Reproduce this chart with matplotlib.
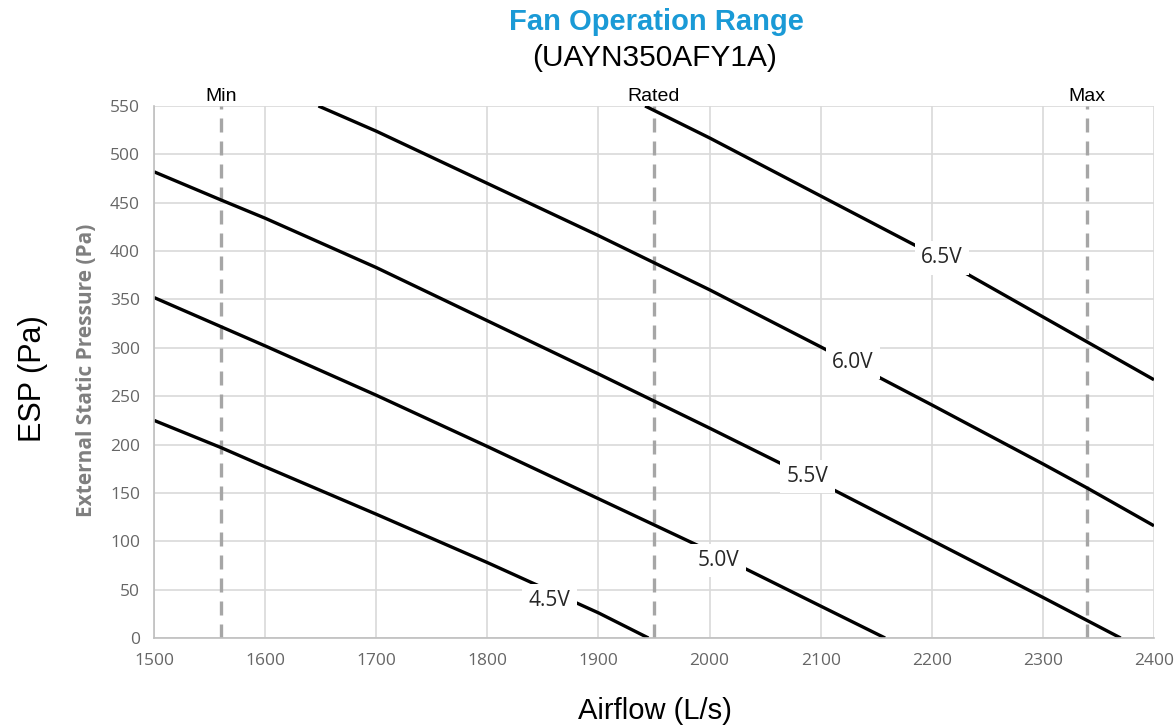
import matplotlib
matplotlib.use("Agg")
import matplotlib.pyplot as plt

# Fan curves: airflow (L/s) vs external static pressure (Pa) per control voltage
volt_labels = ["4.5V", "5.0V", "5.5V", "6.0V", "6.5V"]

flow_45 = [1500, 1560, 1600, 1700, 1800, 1900, 1945]
esp_45 = [225, 197, 177, 128, 78, 26, 0]

flow_50 = [1500, 1560, 1600, 1700, 1800, 1900, 1950, 2000, 2100, 2158]
esp_50 = [352, 322, 302, 251, 198, 144, 117, 90, 33, 0]

flow_55 = [1500, 1560, 1600, 1700, 1800, 1900, 1950, 2000, 2100, 2200, 2300, 2370]
esp_55 = [482, 453, 434, 383, 328, 273, 245, 217, 160, 101, 42, 0]

flow_60 = [1648, 1700, 1800, 1900, 1950, 2000, 2100, 2200, 2300, 2340, 2400]
esp_60 = [550, 524, 470, 416, 388, 360, 301, 241, 180, 155, 116]

flow_65 = [1942, 2000, 2100, 2200, 2300, 2340, 2400]
esp_65 = [550, 517, 457, 397, 332, 306, 267]

# Where each voltage tag sits on its curve
label_flow = [1856, 2008, 2088, 2129, 2209]
label_esp = [39, 80, 167, 285, 393]

# Operating limits
limit_names = ["Min", "Rated", "Max"]
limit_flow = [1560, 1950, 2340]

x_ticks = list(range(1500, 2401, 100))
y_ticks = list(range(0, 551, 50))

W, H = 1174, 725
fig = plt.figure(figsize=(W / 100, H / 100), dpi=100)
ax = fig.add_axes([154 / W, 1 - 638 / H, 1000 / W, 532 / H])

ax.set_xlim(1500, 2400)
ax.set_ylim(0, 550)
ax.set_xticks(x_ticks)
ax.set_yticks(y_ticks)
ax.grid(True, color="#d9d9d9", linewidth=1.2, zorder=0)
ax.set_axisbelow(True)
for side in ("top", "right"):
    ax.spines[side].set_visible(False)
for side in ("left", "bottom"):
    ax.spines[side].set_color("#bfbfbf")
    ax.spines[side].set_linewidth(1.2)
ax.tick_params(length=0, labelsize=12.5, labelcolor="#666666")
ax.tick_params(axis="x", pad=11)
ax.tick_params(axis="y", pad=10)
for lbl in ax.get_xticklabels() + ax.get_yticklabels():
    lbl.set_fontfamily("Open Sans")

# Dashed limit lines with their names above the plot
for name, fx in zip(limit_names, limit_flow):
    ax.axvline(fx, color="#a6a6a6", linewidth=2.4, dashes=(4.2, 2.7), zorder=1)
    ax.text(fx, 560, name, ha="center", va="center", fontsize=14,
            family="Liberation Sans", color="black", clip_on=False)

curves = [(flow_45, esp_45), (flow_50, esp_50), (flow_55, esp_55),
          (flow_60, esp_60), (flow_65, esp_65)]
for (fx, fy), name, lx, ly in zip(curves, volt_labels, label_flow, label_esp):
    ax.plot(fx, fy, color="black", linewidth=2.4, zorder=2, clip_on=True,
            solid_capstyle="butt", solid_joinstyle="round")
    ax.text(lx, ly, name, ha="center", va="center", fontsize=15,
            family="Open Sans", color="#262626", zorder=3,
            bbox=dict(boxstyle="square,pad=0.3", facecolor="white",
                      edgecolor="none"))

fig.text(87 / W, 1 - 370 / H, "External Static Pressure (Pa)", ha="center",
         va="center", rotation=90, fontsize=15, fontweight="bold",
         color="#7f7f7f", family="Open Sans")

fig.text(656 / W, 1 - 22 / H, "Fan Operation Range", ha="center",
         va="center", fontsize=21, fontweight="bold", color="#1a9ad6",
         family="Liberation Sans")
fig.text(655 / W, 1 - 58 / H, "(UAYN350AFY1A)", ha="center",
         va="center", fontsize=21.5, color="black", family="Liberation Sans")
fig.text(655 / W, 1 - 711 / H, "Airflow (L/s)", ha="center",
         va="center", fontsize=21, color="black", family="Liberation Sans")
fig.text(33 / W, 1 - 379 / H, "ESP (Pa)", ha="center", va="center",
         rotation=90, fontsize=22, color="black", family="Liberation Sans")

fig.savefig("out.png", dpi=100)
